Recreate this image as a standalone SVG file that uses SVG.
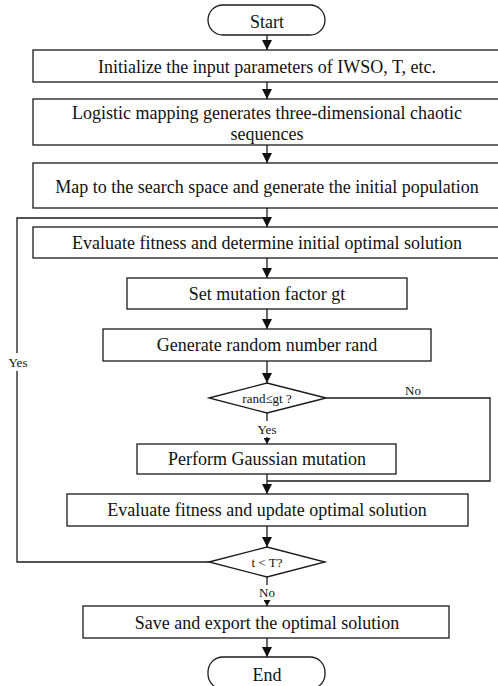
<svg xmlns="http://www.w3.org/2000/svg" width="498" height="686" viewBox="0 0 498 686">
<defs>
<style>
.box{fill:#fff;stroke:#1a1a1a;stroke-width:1.3}
.ln{fill:none;stroke:#1a1a1a;stroke-width:1.3}
.t{font-family:"Liberation Serif","Times New Roman",serif;font-size:18px;fill:#111;text-anchor:middle}
.s{font-family:"Liberation Serif","Times New Roman",serif;font-size:13px;fill:#111;text-anchor:middle}
</style>
<marker id="ar" markerUnits="userSpaceOnUse" markerWidth="11" markerHeight="10" refX="10" refY="5" orient="auto">
<path d="M0,0 L10,5 L0,10 Z" fill="#111"/>
</marker>
<marker id="as" markerUnits="userSpaceOnUse" markerWidth="7" markerHeight="7" refX="6" refY="3.5" orient="auto">
<path d="M0,0 L6,3.5 L0,7 Z" fill="#111"/>
</marker>
</defs>
<rect width="498" height="686" fill="#fff"/>

<g id="connectors">
<line class="ln" x1="267" y1="35" x2="267" y2="50" marker-end="url(#ar)"/>
<line class="ln" x1="267" y1="82" x2="267" y2="99" marker-end="url(#ar)"/>
<line class="ln" x1="267" y1="145" x2="267" y2="163" marker-end="url(#ar)"/>
<line class="ln" x1="267" y1="208" x2="267" y2="227" marker-end="url(#ar)"/>
<line class="ln" x1="267" y1="258" x2="267" y2="278" marker-end="url(#ar)"/>
<line class="ln" x1="267" y1="309" x2="267" y2="329" marker-end="url(#ar)"/>
<line class="ln" x1="267" y1="361" x2="267" y2="383" marker-end="url(#ar)"/>
<line class="ln" x1="267" y1="413" x2="267" y2="421"/>
<line class="ln" x1="267" y1="437" x2="267" y2="444" marker-end="url(#as)"/>
<polyline class="ln" points="326,398 490,398 490,481 267,481"/>
<line class="ln" x1="267" y1="474" x2="267" y2="494" marker-end="url(#ar)"/>
<line class="ln" x1="267" y1="526" x2="267" y2="547" marker-end="url(#ar)"/>
<line class="ln" x1="267" y1="577" x2="267" y2="585"/>
<line class="ln" x1="267" y1="600" x2="267" y2="606" marker-end="url(#as)"/>
<line class="ln" x1="267" y1="638" x2="267" y2="657" marker-end="url(#ar)"/>
<polyline class="ln" points="209,562 17,562 17,218 267,218"/>
<rect x="8" y="353" width="20" height="18" fill="#fff"/>
<text class="s" x="18" y="367">Yes</text>
<text class="s" x="413" y="395">No</text>
<text class="s" x="267" y="434">Yes</text>
<text class="s" x="267" y="597">No</text>
</g>

<g id="start">
<rect class="box" x="208" y="5" width="117" height="30" rx="15"/>
<text class="t" x="267" y="28">Start</text>
</g>
<g id="init">
<rect class="box" x="33" y="50" width="472" height="32"/>
<text class="t" x="267" y="73">Initialize the input parameters of IWSO, T, etc.</text>
</g>
<g id="logistic">
<rect class="box" x="33" y="99" width="472" height="46"/>
<text class="t" x="267" y="119">Logistic mapping generates three-dimensional chaotic</text>
<text class="t" x="267" y="140">sequences</text>
</g>
<g id="map">
<rect class="box" x="33" y="163" width="472" height="45"/>
<text class="t" x="267" y="193">Map to the search space and generate the initial population</text>
</g>
<g id="eval1">
<rect class="box" x="33" y="227" width="472" height="31"/>
<text class="t" x="267" y="249">Evaluate fitness and determine initial optimal solution</text>
</g>
<g id="setmut">
<rect class="box" x="127" y="278" width="280" height="31"/>
<text class="t" x="267" y="300">Set mutation factor gt</text>
</g>
<g id="genrand">
<rect class="box" x="103" y="329" width="328" height="32"/>
<text class="t" x="267" y="351">Generate random number rand</text>
</g>
<g id="dec1">
<polygon class="box" points="209,398 267,383 326,398 267,413"/>
<text class="s" x="267" y="403">rand≤gt ?</text>
</g>
<g id="gauss">
<rect class="box" x="137" y="444" width="259" height="30"/>
<text class="t" x="267" y="465">Perform Gaussian mutation</text>
</g>
<g id="eval2">
<rect class="box" x="67" y="494" width="401" height="32"/>
<text class="t" x="267" y="516">Evaluate fitness and update optimal solution</text>
</g>
<g id="dec2">
<polygon class="box" points="209,562 267,547 325,562 267,577"/>
<text class="s" x="267" y="567">t &lt; T?</text>
</g>
<g id="save">
<rect class="box" x="83" y="606" width="366" height="32"/>
<text class="t" x="267" y="629">Save and export the optimal solution</text>
</g>
<g id="end">
<rect class="box" x="208" y="657" width="117" height="32" rx="15"/>
<text class="t" x="267" y="681">End</text>
</g>
</svg>
